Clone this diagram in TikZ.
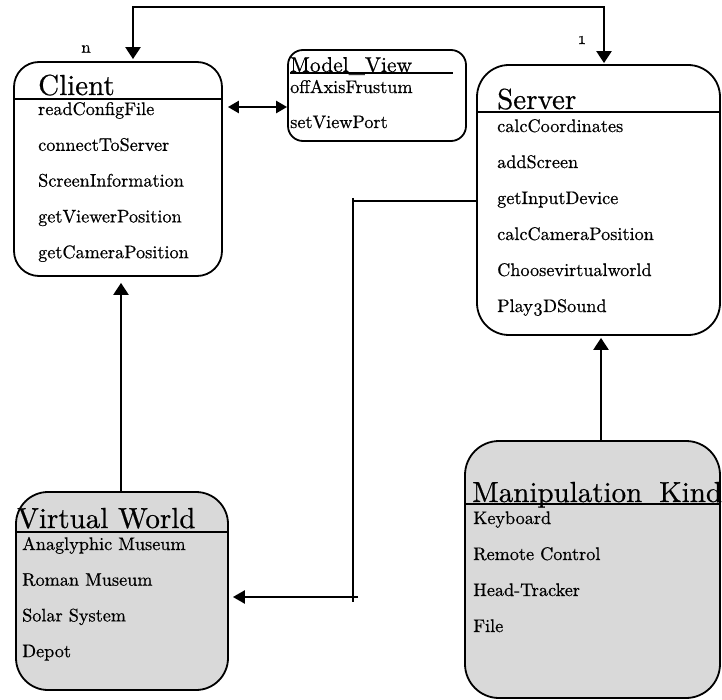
\documentclass[tikz,border=0pt]{standalone}
\usepackage{fontspec}
% one design size throughout, slightly emboldened for an even, dark colour
\setmainfont{lmroman10-regular.otf}[Numbers=OldStyle, FakeBold=0.6]
\newfontface\boxfont{lmroman10-regular.otf}[Numbers=OldStyle, FakeBold=0.6]
\usetikzlibrary{arrows.meta}
\definecolor{boxgray}{HTML}{D9D9D9}
\tikzset{
  umlbox/.style={draw=black, line width=1.8pt, rectangle, inner sep=0pt},
  sep/.style={line width=1.6pt},
  conn/.style={line width=2.4pt},
  thinconn/.style={line width=1.6pt},
  tip/.tip={Triangle[length=12pt,width=15pt]},
  title/.style={anchor=base west, inner sep=0pt, font=\fontsize{29}{32}\selectfont\boxfont},
  smalltitle/.style={anchor=base west, inner sep=0pt, font=\fontsize{21.5}{24}\selectfont\boxfont},
  item/.style={anchor=base west, inner sep=0pt, font=\fontsize{18.2}{21}\selectfont\boxfont},
  mult/.style={inner sep=0pt, font=\fontsize{17}{19}\selectfont\boxfont},
}
\begin{document}
\begin{tikzpicture}[x=1pt, y=-1pt]
\useasboundingbox (0,0) rectangle (722,700);

% class boxes
\node[umlbox, fill=white, rounded corners=25pt, minimum width=208pt, minimum height=214pt] (client) at (118,169) {};
\node[umlbox, fill=white, rounded corners=15pt, minimum width=178pt, minimum height=91pt] (model) at (377,95.5) {};
\node[umlbox, fill=white, rounded corners=32pt, minimum width=243pt, minimum height=270pt] (server) at (598.5,200) {};
\node[umlbox, fill=boxgray, rounded corners=32pt, minimum width=212pt, minimum height=198pt] (vworld) at (122,591) {};
\node[umlbox, fill=boxgray, rounded corners=34pt, minimum width=255pt, minimum height=257pt] (manip) at (592.5,569.5) {};

% title separators
\draw[sep] (client.west |- 0,99) -- (client.east |- 0,99);
\draw[sep] (290,73) -- (453,73);
\draw[sep] (server.west |- 0,112) -- (server.east |- 0,112);
\draw[sep] (vworld.west |- 0,532) -- (vworld.east |- 0,532);
\draw[sep] (manip.west |- 0,504) -- (manip.east |- 0,504);

% Client
\node[title] (client-t) at (38,95) {Client};
\foreach \t [count=\i] in {readConfigFile, connectToServer, ScreenInformation, getViewerPosition, getCameraPosition}
  \node[item] (client-\i) at (38,{115+35.8*(\i-1)}) {\t};

% Model_View
\node[smalltitle] (model-t) at (290,72) {Model\_View};
\node[item] (model-1) at (290,93) {offAxisFrustum};
\node[item] (model-2) at (290,128) {setViewPort};

% Server
\node[title] (server-t) at (497,109) {Server};
\foreach \t [count=\i] in {calcCoordinates, addScreen, getInputDevice, calcCameraPosition, Choosevirtualworld, Play3DSound}
  \node[item] (server-\i) at (497,{132+36*(\i-1)}) {\t};

% Virtual World
\node[title] (vworld-t) at (17,528) {Virtual World};
\foreach \t [count=\i] in {Anaglyphic Museum, Roman Museum, Solar System, Depot}
  \node[item] (vworld-\i) at (22,{550+35.7*(\i-1)}) {\t};

% Manipulation Kind
\node[title] (manip-t) at (472,502) {Manipulation\hspace{0.25em} Kind};
\foreach \t [count=\i] in {Keyboard, Remote Control, Head-Tracker, File}
  \node[item] (manip-\i) at (473,{524+36*(\i-1)}) {\t};

% association client -- server with multiplicities
\coordinate (topL) at (133,7);
\coordinate (topR) at (604,7);
\draw[conn, tip-tip, shorten <=2pt, shorten >=1pt]
  (client.north -| topL) -- (topL) -- (topR) -- (server.north -| topR);
\node[mult] (mult-n) at (86,49) {n};
\node[mult] (mult-1) at (582,40) {1};

% client <-> model view
\draw[conn, {Triangle[length=11pt,width=12pt]}-{Triangle[length=11pt,width=12pt]}, shorten <=5pt]
  (client.east |- 0,107) -- (model.west |- 0,107);

% virtual world -> client
\draw[conn, -tip, shorten >=6pt] (vworld.north -| 121,0) -- (client.south -| 121,0);

% manipulation kind -> server
\draw[conn, -tip, shorten >=2pt] (manip.north -| 601,0) -- (server.south -| 601,0);

% server -> virtual world
\coordinate (j1) at (353,201);
\coordinate (vtop) at (353,198);
\coordinate (vbot) at (353,602);
\coordinate (j2) at (358,597);
\draw[thinconn] (server.west |- j1) -- (j1);
\draw[thinconn] (vtop) -- (vbot);
\draw[conn, -{Triangle[length=12pt,width=13pt]}, shorten >=4pt] (j2) -- (vworld.east |- j2);
\end{tikzpicture}
\end{document}
